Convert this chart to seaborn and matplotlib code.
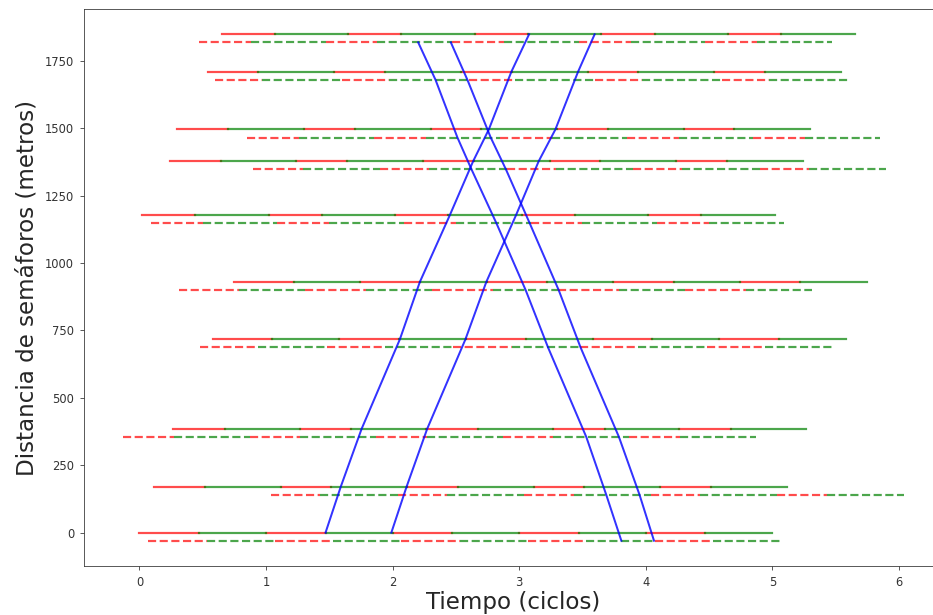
import matplotlib
matplotlib.use("Agg")
import matplotlib.pyplot as plt
import numpy as np
import pandas as pd
import seaborn as sns

# Posición de cada semáforo sobre la vía (m); el sentido de bajada se dibuja 30 m por debajo
posiciones = [0, 170, 385, 717, 930, 1178, 1378, 1496, 1710, 1849]
separacion_bajada = 30
n_ciclos = 5

# Desfase de inicio y fracción de rojo por ciclo, sentido de subida (línea continua)
desfase_subida = [0.00, 0.115, 0.265, 0.58, 0.745, 0.02, 0.24, 0.30, 0.54, 0.65]
rojo_subida = [0.47, 0.40, 0.41, 0.47, 0.475, 0.42, 0.40, 0.40, 0.40, 0.42]

# Desfase de inicio y fracción de rojo por ciclo, sentido de bajada (línea discontinua)
desfase_bajada = [0.07, 1.04, -0.13, 0.48, 0.31, 0.09, 0.90, 0.85, 0.60, 0.47]
rojo_bajada = [0.46, 0.39, 0.40, 0.46, 0.48, 0.41, 0.39, 0.41, 0.37, 0.41]

# Instante (ciclos) en que cada vehículo pasa por cada semáforo
subida_1 = [1.47, 1.59, 1.755, 2.057, 2.215, 2.452, 2.636, 2.76, 2.938, 3.078]
subida_2 = [1.99, 2.11, 2.273, 2.575, 2.74, 2.975, 3.154, 3.286, 3.465, 3.596]
bajada_1 = [3.807, 3.688, 3.53, 3.228, 3.051, 2.82, 2.623, 2.512, 2.339, 2.202]
bajada_2 = [4.065, 3.951, 3.788, 3.485, 3.312, 3.083, 2.895, 2.775, 2.591, 2.46]

# Tabla de tramos de fase (rojo / verde) de todos los semáforos
filas = []
seg = 0
for i, pos in enumerate(posiciones):
    sentidos = [
        ("subida", pos, desfase_subida[i], rojo_subida[i]),
        ("bajada", pos - separacion_bajada, desfase_bajada[i], rojo_bajada[i]),
    ]
    for sentido, y, desfase, rojo in sentidos:
        for c in range(n_ciclos):
            t0 = desfase + c
            for fase, a, b in (("rojo", t0, t0 + rojo), ("verde", t0 + rojo, t0 + 1)):
                filas.append({"t": a, "y": y, "tramo": seg, "fase": fase, "sentido": sentido})
                filas.append({"t": b, "y": y, "tramo": seg, "fase": fase, "sentido": sentido})
                seg += 1
fases = pd.DataFrame(filas)

# Tabla de trayectorias de los vehículos
pos_sub = np.array(posiciones)
pos_baj = pos_sub - separacion_bajada
trayectorias = pd.concat([
    pd.DataFrame({"t": subida_1, "y": pos_sub, "vehiculo": "s1"}),
    pd.DataFrame({"t": subida_2, "y": pos_sub, "vehiculo": "s2"}),
    pd.DataFrame({"t": bajada_1, "y": pos_baj, "vehiculo": "b1"}),
    pd.DataFrame({"t": bajada_2, "y": pos_baj, "vehiculo": "b2"}),
], ignore_index=True)

fig = plt.figure(figsize=(933 / 72, 615 / 72), dpi=72)
ax = fig.add_axes([84 / 933, 49 / 615, 859 / 933, 557 / 615])

sns.lineplot(
    data=fases, x="t", y="y", units="tramo", estimator=None,
    hue="fase", palette={"rojo": "red", "verde": "green"},
    style="sentido", dashes={"subida": "", "bajada": (3.7, 1.6)},
    alpha=0.7, linewidth=2.2, legend=False, sort=False, ax=ax,
)
sns.lineplot(
    data=trayectorias, x="t", y="y", units="vehiculo",
    estimator=None, color="blue", alpha=0.8, linewidth=2,
    legend=False, sort=False, ax=ax,
)

ax.tick_params(labelsize=11.5, length=4, pad=6, colors="#333333", labelcolor="#333333")
for lado in ax.spines.values():
    lado.set_color("#333333")
ax.set_xlabel("Tiempo (ciclos)", fontsize=23, labelpad=2, color="#262626")
ax.set_ylabel("Distancia de semáforos (metros)", fontsize=23, labelpad=6, color="#262626")

fig.savefig("out.png", dpi=72)
